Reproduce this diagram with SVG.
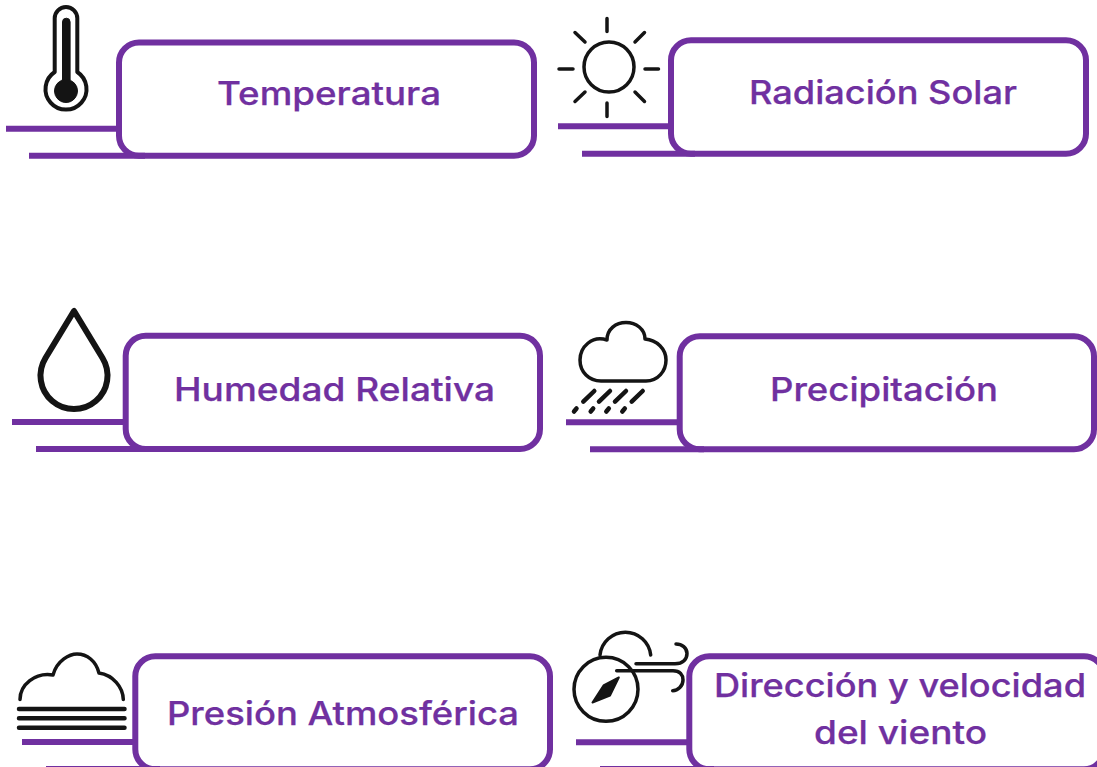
<svg xmlns="http://www.w3.org/2000/svg" width="1097" height="767" viewBox="0 0 1097 767">
<style>
.box{fill:#fff;stroke:#7030A0;stroke-width:6}
.bar{fill:none;stroke:#7030A0;stroke-width:6}
.lab{fill:#7030A0;stroke:#7030A0;stroke-width:.25;font-family:Inter,"Open Sans","Liberation Sans",sans-serif;font-weight:500;font-size:32.5px}
.ic{fill:none;stroke:#141414;stroke-width:3.5;stroke-linecap:round;stroke-linejoin:round}
.fill{fill:#141414;stroke:#141414;stroke-linejoin:round}
</style>
<rect width="1097" height="767" fill="#fff"/>
<g id="connectors">
<path class="bar" d="M6 128.700H119"/>
<path class="bar" d="M558 126.300H671"/>
<path class="bar" d="M12 422H126"/>
<path class="bar" d="M566 422.300H680"/>
<path class="bar" d="M22 742H135"/>
<path class="bar" d="M576 742.300H689"/>
</g>
<g id="node-temperatura">
<rect class="box" x="119" y="42.500" width="415" height="113.200" rx="20"/>
<path class="bar" d="M29 155.700H145"/>
<path class="ic" d="M54.700 72V18.300a11.300 11.300 0 0 1 22.600 0V72a20.500 20.500 0 1 1-22.600 0Z" style="stroke-width:4"/>
<path class="fill" d="M62.500 80V22a3.800 3.800 0 0 1 7.600 0V80Z"/>
<circle class="fill" cx="66" cy="91" r="11.500"/>
<text class="lab" x="217" y="105" textLength="224" lengthAdjust="spacingAndGlyphs">Temperatura</text>
</g>
<g id="node-radiacion">
<rect class="box" x="671" y="40.300" width="415" height="113.400" rx="20"/>
<path class="bar" d="M582 153.700H695"/>
<circle class="ic" cx="609" cy="67" r="25"/>
<path class="ic" d="M607 18.500V31.500M607 103V116.500M559 69H573M645 69H658.500M575 32.500L585 42M644.500 32.500L635 42M575 101.500L585 92M644.500 101.500L635 92"/>
<text class="lab" x="749" y="104" textLength="268" lengthAdjust="spacingAndGlyphs">Radiación Solar</text>
</g>
<g id="node-humedad">
<rect class="box" x="125.700" y="335.700" width="414.300" height="113.300" rx="20"/>
<path class="bar" d="M36 449H150"/>
<path class="ic" d="M74 311L45.500 358A33.500 33.500 0 1 0 102.500 358Z" style="stroke-width:6"/>
<text class="lab" x="174" y="401" textLength="321" lengthAdjust="spacingAndGlyphs">Humedad Relativa</text>
</g>
<g id="node-precipitacion">
<rect class="box" x="679.700" y="336.300" width="414.300" height="113" rx="20"/>
<path class="bar" d="M590 449.300H704"/>
<path class="ic" d="M601 381H646C658 381 666 371 666 360C666 349 657 340 645 339C645 329 636 322.500 626 322.500C616 322.500 607 329 607 340C592 335 580 347 580 360C580 372 589 381 601 381Z"/>
<path class="ic" style="stroke-width:4.500" d="M594.300 391L583.300 401.700M610 391L599 401.700M626 391L615 401.700M642.700 391L631.700 401.700M576.500 408.500L574 411.500M593.200 408.500L590.700 411.500M608.800 408.500L606.300 411.500M624.800 408.500L622.300 411.500"/>
<text class="lab" x="770" y="401" textLength="228" lengthAdjust="spacingAndGlyphs">Precipitación</text>
</g>
<g id="node-presion">
<rect class="box" x="135.300" y="656.300" width="414.700" height="113" rx="20"/>
<path class="bar" d="M46 769H160"/>
<path class="ic" d="M20 699.500C20 685 35 672 53 675C57 660 70 654 77 654C87 654 96 661 99 673C113 675 123 687 123.300 699.500"/>
<path class="ic" style="stroke-width:4.500" d="M19 709H124.500M19 718.300H124.500M19 727.700H124.500"/>
<text class="lab" x="167" y="725" textLength="352" lengthAdjust="spacingAndGlyphs">Presión Atmosférica</text>
</g>
<g id="node-direccion">
<rect class="box" x="689.300" y="656.300" width="414.700" height="113" rx="20"/>
<path class="bar" d="M600 769H714"/>
<circle class="ic" cx="606" cy="689.300" r="32"/>
<path class="ic" d="M600 655A25.500 25.500 0 0 1 650.700 655"/>
<path class="ic" d="M636 663.700H675C683 663.700 687 659 687 653.500C687 648 682 644 676 644M616.700 670.700H673C680 670.700 683 675 683 680C683 686 678 690.700 672.700 690.700"/>
<path class="fill" stroke-width="2" d="M618.800 677.500L603.500 685.500L592.500 702.500L610 695.500Z"/>
<text class="lab" x="714" y="697" textLength="372" lengthAdjust="spacingAndGlyphs">Dirección y velocidad</text>
<text class="lab" x="814" y="744" textLength="173" lengthAdjust="spacingAndGlyphs">del viento</text>
</g>
</svg>
